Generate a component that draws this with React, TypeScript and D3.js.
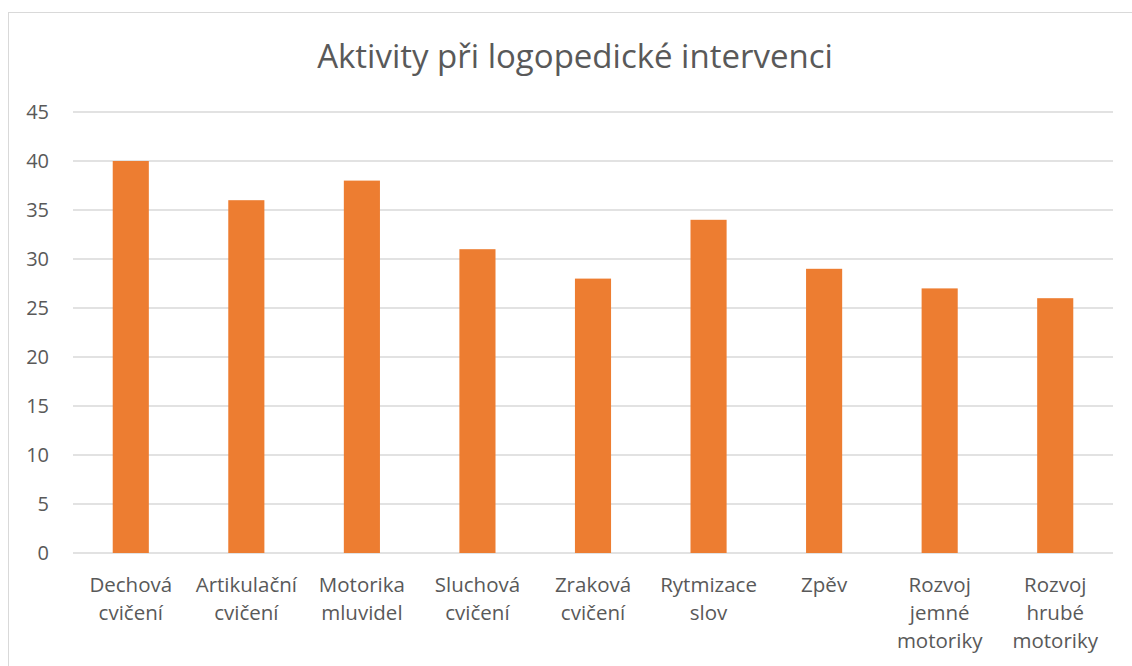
import React from "react";
import * as d3 from "d3";

const title = "Aktivity při logopedické intervenci";
const categories = [
  "Dechová cvičení",
  "Artikulační cvičení",
  "Motorika mluvidel",
  "Sluchová cvičení",
  "Zraková cvičení",
  "Rytmizace slov",
  "Zpěv",
  "Rozvoj jemné motoriky",
  "Rozvoj hrubé motoriky",
];
const labelLines = [
  ["Dechová", "cvičení"],
  ["Artikulační", "cvičení"],
  ["Motorika", "mluvidel"],
  ["Sluchová", "cvičení"],
  ["Zraková", "cvičení"],
  ["Rytmizace", "slov"],
  ["Zpěv"],
  ["Rozvoj", "jemné", "motoriky"],
  ["Rozvoj", "hrubé", "motoriky"],
];
const values = [40, 36, 38, 31, 28, 34, 29, 27, 26];
const yTicks = [0, 5, 10, 15, 20, 25, 30, 35, 40, 45];

const W = 1132;
const H = 666;
const FONT = "'Open Sans', 'DejaVu Sans', sans-serif";
const TEXT = "#595959";
const GRID = "#D9D9D9";
const BAR = "#ED7D31";

export default function App() {
  const left = 73;
  const right = 1113;
  const top = 112;
  const bottom = 553;
  const x = d3.scaleBand<string>().domain(categories).range([left, right]).paddingInner(0.6875).paddingOuter(0.34375);
  const y = d3.scaleLinear().domain([0, 45]).range([bottom, top]);

  return (
    <svg width={W} height={H} style={{ position: "absolute", left: 0, top: 0, display: "block", background: "#fff" }}>
      <rect x={8.5} y={12.5} width={1140} height={700} fill="#fff" stroke={GRID} strokeWidth={1} />
      <text x={575} y={68} textAnchor="middle" fontFamily={FONT} fontSize={33} fill={TEXT}>
        {title}
      </text>
      {yTicks.map((t) => (
        <g key={t}>
          <line x1={left} x2={right} y1={y(t)} y2={y(t)} stroke={GRID} strokeWidth={1.5} />
          <text x={49} y={y(t)} dy="0.35em" textAnchor="end" fontFamily={FONT} fontSize={20} fill={TEXT}>
            {t}
          </text>
        </g>
      ))}
      {categories.map((c, i) => (
        <rect key={c} x={x(c)} y={y(values[i])} width={x.bandwidth()} height={y(0) - y(values[i])} fill={BAR} />
      ))}
      {categories.map((c, i) => (
        <text key={c} textAnchor="middle" fontFamily={FONT} fontSize={20.5} fill={TEXT}>
          {labelLines[i].map((ln, j) => (
            <tspan key={j} x={(x(c) as number) + x.bandwidth() / 2} y={592 + j * 28}>
              {ln}
            </tspan>
          ))}
        </text>
      ))}
    </svg>
  );
}
